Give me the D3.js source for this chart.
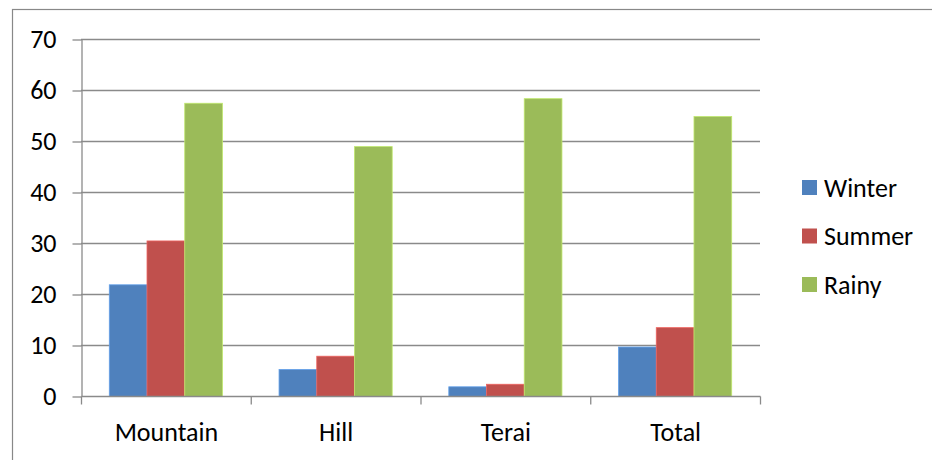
<!DOCTYPE html>
<html><head><meta charset="utf-8">
<script src="https://cdn.jsdelivr.net/npm/d3@7"></script>
<style>body{margin:0;background:#fff;}svg{display:block;}text{font-family:Carlito,Lato,"Open Sans",sans-serif;fill:#000;}</style>
</head><body>
<svg id="c" width="932" height="460"></svg>
<script>
const categories = ["Mountain", "Hill", "Terai", "Total"];
const seriesNames = ["Winter", "Summer", "Rainy"];
const winter = [21.9, 5.3, 1.9, 9.7];
const summer = [30.5, 7.9, 2.4, 13.5];
const rainy = [57.5, 49.0, 58.4, 54.9];
const yTicks = [0, 10, 20, 30, 40, 50, 60, 70];
const colors = ["#4F81BD", "#C0504D", "#9BBB59"];

const series = [winter, summer, rainy];
const svg = d3.select("#c");
const fs = 26;

// outer chart border
svg.append("rect").attr("x", 12.5).attr("y", 9.5).attr("width", 940).attr("height", 480)
  .attr("fill", "none").attr("stroke", "#888").attr("stroke-width", 1.2);

const x = d3.scaleBand().domain(categories).range([81, 760]).paddingInner(0).paddingOuter(0);
const y = d3.scaleLinear().domain([0, 70]).range([396, 39]);
const inner = d3.scaleBand().domain(seriesNames).range([0, x.bandwidth()]).paddingInner(0).paddingOuter(0.75);

// gridlines
svg.append("g").selectAll("line").data(yTicks.filter(d => d > 0)).join("line")
  .attr("x1", 81).attr("x2", 760).attr("y1", d => y(d) + 0.5).attr("y2", d => y(d) + 0.5)
  .attr("stroke", "#8a8a8a").attr("stroke-width", 1.3);

// bars
const g = svg.append("g");
series.forEach((vals, si) => {
  g.append("g").selectAll("rect").data(vals).join("rect")
    .attr("x", (d, i) => x(categories[i]) + inner(seriesNames[si]))
    .attr("width", inner.bandwidth())
    .attr("y", d => y(d) + 0.5)
    .attr("height", d => y(0) - y(d))
    .attr("fill", colors[si])
    .attr("stroke", d3.color(colors[si]).brighter(0.6))
    .attr("stroke-width", 0.8);
});

// y axis
const yAxis = d3.axisLeft(y).tickValues(yTicks).tickSize(9).tickPadding(16).tickSizeOuter(0);
const ya = svg.append("g").attr("transform", "translate(81.5,0.5)").call(yAxis);
ya.select(".domain").attr("stroke", "#8a8a8a").attr("stroke-width", 1.3);
ya.selectAll(".tick line").attr("stroke", "#8a8a8a").attr("stroke-width", 1.3);
ya.selectAll("text").attr("font-size", fs).attr("font-family", "Carlito,Lato,'Open Sans',sans-serif").attr("fill", "#000");

// x axis
const xa = svg.append("g").attr("transform", "translate(0.5,396.5)");
xa.append("line").attr("x1", 81).attr("x2", 760).attr("stroke", "#8a8a8a").attr("stroke-width", 1.3);
xa.selectAll("line.t").data(d3.range(categories.length + 1)).join("line").attr("class", "t")
  .attr("x1", i => 81 + i * x.bandwidth()).attr("x2", i => 81 + i * x.bandwidth())
  .attr("y1", 0).attr("y2", 8).attr("stroke", "#8a8a8a").attr("stroke-width", 1.3);
xa.selectAll("text").data(categories).join("text")
  .attr("x", d => x(d) + x.bandwidth() / 2).attr("y", 44)
  .attr("text-anchor", "middle").attr("font-size", fs).text(d => d);

// legend
const lg = svg.append("g").attr("transform", "translate(802,180)");
seriesNames.forEach((n, i) => {
  lg.append("rect").attr("x", 0).attr("y", i * 48.5).attr("width", 15).attr("height", 15).attr("fill", colors[i]);
  lg.append("text").attr("x", 22).attr("y", i * 48.5 + 7.5).attr("dy", "0.35em").attr("font-size", fs).text(n);
});
</script>
</body></html>
